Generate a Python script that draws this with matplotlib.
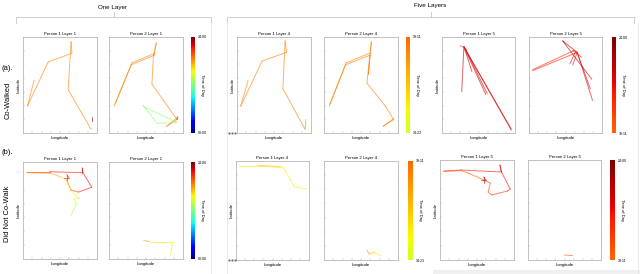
"""Trajectory grid: co-walked vs not co-walked, one layer vs five layers."""
import matplotlib.pyplot as plt
import numpy as np
from matplotlib.cm import ScalarMappable
from matplotlib.collections import LineCollection
from matplotlib.colors import ListedColormap, Normalize
from matplotlib.lines import Line2D
from matplotlib.patches import Rectangle

W, H = 640, 274
plt.rcParams['font.family'] = ['Liberation Sans', 'DejaVu Sans']

ROW_TAGS = ["(a).", "(b)."]
ROW_NAMES = ["Co-Walked", "Did Not Co-Walk"]
GROUP_TITLES = ["One Layer", "Five Layers"]
LAYERS = [1, 4, 5]
LAYER_HOURS = {1: (0.0, 24.0), 4: (14 + 23 / 60, 19 + 11 / 60), 5: (19 + 11 / 60, 24.0)}
LAYER_TICKS = {1: ("00:00", "24:00"), 4: ("14:23", "19:11"), 5: ("19:11", "24:00")}

# each path: (longitude, latitude, hour of day at each vertex)
CO_P1_L1 = [
    ([0.15, 0.06, 0.34, 0.66, 0.65, 0.61, 0.92], [0.55, 0.28, 0.74, 0.83, 0.95, 0.45, 0.04], [18.5] * 7),
    ([0.93, 0.93], [0.17, 0.12], [23.0, 23.0]),
]
CO_P2_L1 = [
    ([0.07, 0.30, 0.61, 0.64, 0.60, 0.58, 0.92, 0.78, 0.92],
     [0.28, 0.71, 0.81, 0.94, 0.81, 0.51, 0.14, 0.07, 0.16], [18.5] * 9),
    ([0.08, 0.31, 0.62], [0.30, 0.73, 0.83], [18.5] * 3),
    ([0.46, 0.48, 0.92, 0.65, 0.46], [0.29, 0.27, 0.11, 0.10, 0.29], [12.5] * 5),
    ([0.92, 0.93], [0.14, 0.17], [23.0, 23.0]),
]
CO_P1_L4 = [
    ([0.15, 0.05, 0.34, 0.67, 0.65, 0.62, 0.92, 0.93], [0.55, 0.28, 0.75, 0.84, 0.96, 0.46, 0.04, 0.14], [18.6] * 8),
]
CO_P2_L4 = [
    ([0.07, 0.29, 0.62, 0.64, 0.60, 0.62], [0.28, 0.71, 0.81, 0.95, 0.61, 0.81], [18.6] * 6),
    ([0.08, 0.30, 0.61], [0.30, 0.73, 0.83], [18.6] * 3),
    ([0.62, 0.58, 0.83, 0.94, 0.80, 0.94], [0.81, 0.52, 0.28, 0.14, 0.07, 0.15], [18.6] * 6),
]
CO_P1_L5 = [
    ([0.30, 0.27], [0.90, 0.43], [23.5, 21.5]),
    ([0.30, 0.41], [0.90, 0.64], [23.5, 21.0]),
    ([0.30, 0.60], [0.90, 0.40], [23.5, 21.5]),
    ([0.31, 0.62], [0.89, 0.41], [23.0, 21.0]),
    ([0.30, 0.95], [0.90, 0.03], [23.5, 22.0]),
    ([0.31, 0.95], [0.88, 0.04], [22.5, 21.0]),
    ([0.25, 0.34], [0.91, 0.87], [20.0, 20.5]),
]
CO_P2_L5 = [
    ([0.46, 0.86], [0.96, 0.56], [23.8, 22.0]),
    ([0.46, 0.66], [0.96, 0.84], [23.8, 23.0]),
    ([0.66, 0.05], [0.84, 0.65], [22.0, 20.5]),
    ([0.62, 0.05], [0.86, 0.66], [21.5, 20.5]),
    ([0.66, 0.84], [0.84, 0.46], [23.0, 21.5]),
    ([0.66, 0.87], [0.84, 0.34], [22.5, 21.0]),
    ([0.66, 0.60], [0.84, 0.71], [22.0, 21.0]),
    ([0.64, 0.56], [0.85, 0.72], [22.0, 21.0]),
    ([0.60, 0.72], [0.86, 0.79], [21.5, 21.0]),
]
NO_P1_L1 = [
    ([0.05, 0.36, 0.80, 0.80, 0.81, 0.93, 0.75, 0.65, 0.59],
     [0.90, 0.90, 0.89, 0.94, 0.89, 0.74, 0.69, 0.71, 0.81],
     [20.5, 21.0, 21.5, 23.0, 21.5, 21.5, 21.0, 20.0, 19.0]),
    ([0.05, 0.36, 0.50, 0.59, 0.65], [0.89, 0.885, 0.85, 0.81, 0.71], [19.0, 18.0, 17.0, 16.5, 16.0]),
    ([0.66, 0.76, 0.69, 0.72, 0.65], [0.69, 0.63, 0.62, 0.57, 0.45], [15.5, 15.0, 14.5, 14.0, 13.5]),
    ([0.56, 0.62, 0.59, 0.59], [0.84, 0.84, 0.87, 0.81], [21.5, 21.5, 21.5, 21.5]),
]
NO_P2_L1 = [
    ([0.47, 0.55, 0.86, 0.85, 0.83], [0.19, 0.18, 0.18, 0.14, 0.04], [19.0, 17.0, 15.0, 14.5, 14.0]),
]
NO_P1_L4 = [
    ([0.04, 0.35, 0.65, 0.80, 0.96], [0.95, 0.95, 0.93, 0.74, 0.72], [16.0] * 5),
    ([0.30, 0.62], [0.955, 0.945], [16.8, 16.8]),
]
NO_P2_L4 = [
    ([0.58, 0.61, 0.68, 0.77], [0.10, 0.06, 0.08, 0.04], [18.2, 17.5, 16.5, 15.5]),
]
NO_P1_L5 = [
    ([0.05, 0.29, 0.83, 0.81, 0.83, 0.95, 0.91, 0.70, 0.65, 0.68, 0.59],
     [0.89, 0.90, 0.88, 0.95, 0.88, 0.71, 0.69, 0.65, 0.68, 0.77, 0.80],
     [21.0, 21.0, 21.5, 23.0, 21.5, 21.5, 21.0, 20.5, 20.0, 20.0, 20.0]),
    ([0.05, 0.29, 0.41, 0.59], [0.885, 0.895, 0.86, 0.80], [20.0, 19.8, 19.6, 19.5]),
    ([0.56, 0.62, 0.59, 0.59], [0.80, 0.80, 0.83, 0.77], [22.5, 22.5, 22.5, 22.5]),
]
NO_P2_L5 = [
    ([0.50, 0.61], [0.05, 0.045], [19.7, 19.7]),
]

PANEL_DATA = [
    {1: (CO_P1_L1, CO_P2_L1), 4: (CO_P1_L4, CO_P2_L4), 5: (CO_P1_L5, CO_P2_L5)},
    {1: (NO_P1_L1, NO_P2_L1), 4: (NO_P1_L4, NO_P2_L4), 5: (NO_P1_L5, NO_P2_L5)},
]

# pixel boxes (x0, x1) for person 1, person 2, colorbar; rows give (y0, y1)
COL_BOXES = [
    {1: ((23, 97), (109, 183), (191, 195)), 4: ((237, 311), (324, 398), (406, 410)),
     5: ((442, 515), (529, 602), (612, 616))},
    {1: ((23, 97), (109, 183), (191, 195)), 4: ((236, 309), (324, 398), (408, 413)),
     5: ((440, 514), (528, 601), (610, 615))},
]
ROW_BOXES = [{1: (37, 133), 4: (37, 133), 5: (37, 133)},
             {1: (162, 259), 4: (161, 260), 5: (160, 260)}]

JET = plt.get_cmap("jet")


def layer_cmap(layer):
    lo, hi = LAYER_HOURS[layer]
    return ListedColormap(JET(np.linspace(lo / 24, hi / 24, 256)))


def px_axes(fig, x0, x1, y0, y1):
    return fig.add_axes([x0 / W, 1 - y1 / H, (x1 - x0) / W, (y1 - y0) / H])


def fig_line(fig, xs, ys, color="#c8c8c8", lw=0.6):
    fig.add_artist(Line2D(np.array(xs) / W, 1 - np.array(ys) / H,
                          transform=fig.transFigure, color=color, lw=lw))


def draw_paths(ax, paths, cmap, norm):
    for lon, lat, hours in paths:
        pts = np.column_stack([lon, lat])
        segs = np.stack([pts[:-1], pts[1:]], axis=1)
        seg_hours = (np.array(hours[:-1]) + np.array(hours[1:])) / 2
        lc = LineCollection(segs, cmap=cmap, norm=norm, lw=0.7, alpha=0.6, capstyle="round")
        lc.set_array(seg_hours)
        ax.add_collection(lc)


fig = plt.figure(figsize=(W / 100, H / 100), dpi=100)

for r in range(2):
    for layer in LAYERS:
        y0, y1 = ROW_BOXES[r][layer]
        p1_box, p2_box, cb_box = COL_BOXES[r][layer]
        cmap = layer_cmap(layer)
        norm = Normalize(*LAYER_HOURS[layer])
        for person, (bx, paths) in enumerate(zip((p1_box, p2_box), PANEL_DATA[r][layer]), start=1):
            ax = px_axes(fig, bx[0], bx[1], y0, y1)
            draw_paths(ax, paths, cmap, norm)
            ax.set_xlim(0, 1)
            ax.set_ylim(0, 1)
            ax.set_xticks(np.linspace(0, 1, 9)[1:-1])
            ax.set_yticks(np.linspace(0, 1, 8)[1:-1])
            ax.tick_params(direction="in", length=1.5, width=0.3, colors="#b0b0b0",
                           labelbottom=False, labelleft=False)
            for sp in ax.spines.values():
                sp.set_color("#b8b8b8")
                sp.set_linewidth(0.6)
            ax.set_title(f"Person {person} Layer {layer}", fontsize=3.1, pad=1.5)
            ax.set_xlabel("Longitude", fontsize=3.1, labelpad=2)
            if person == 1:
                ax.set_ylabel("Latitude", fontsize=3.1, labelpad=2)
        cax = px_axes(fig, cb_box[0], cb_box[1], y0, y1)
        cb = fig.colorbar(ScalarMappable(norm=norm, cmap=cmap), cax=cax)
        cb.set_ticks(list(LAYER_HOURS[layer]))
        cb.set_ticklabels(list(LAYER_TICKS[layer]))
        cb.ax.tick_params(length=0, labelsize=2.6, pad=2)
        cb.outline.set_visible(False)
        cb.set_label("Time of Day", fontsize=3.0, rotation=270, labelpad=-2)

    # "..." between layer 1 and layer 4
    y_dot = ROW_BOXES[r][4][1]
    fig.add_artist(Line2D(np.array([229, 232, 235]) / W, [1 - y_dot / H] * 3,
                          transform=fig.transFigure, ls="none", marker="o",
                          ms=0.5, color="#555555"))

# row tags and names
for r, (tag, name) in enumerate(zip(ROW_TAGS, ROW_NAMES)):
    ytag = [68, 153][r]
    yname = [100, 214][r]
    fig.text(1 / W, 1 - ytag / H, tag, fontsize=5.5, va="center", ha="left")
    fig.text(8 / W, 1 - yname / H, name, fontsize=5.4, rotation=90, va="center", ha="center")

# group brackets
for title, (x0, x1), xt, yt in zip(GROUP_TITLES, [(16, 211), (227, 634)], [113, 430], [7, 6]):
    fig.text(xt / W, 1 - yt / H, title, fontsize=4.5, ha="center", va="center")
    fig_line(fig, [x0, x0, x1, x1], [23, 17, 17, 23])
    fig_line(fig, [(x0 + x1) / 2] * 2, [12, 17])

# faint separators between groups
fig_line(fig, [211, 211], [23, 274], color="#e6e6e6")
fig_line(fig, [227, 227], [23, 274], color="#e6e6e6")
fig_line(fig, [638, 638], [23, 274], color="#e6e6e6")
fig.add_artist(Rectangle((433 / W, 0), 1 - 433 / W, 4 / H, transform=fig.transFigure,
                         color="#f0f0f0", lw=0))

fig.savefig("out.png", dpi=100)
